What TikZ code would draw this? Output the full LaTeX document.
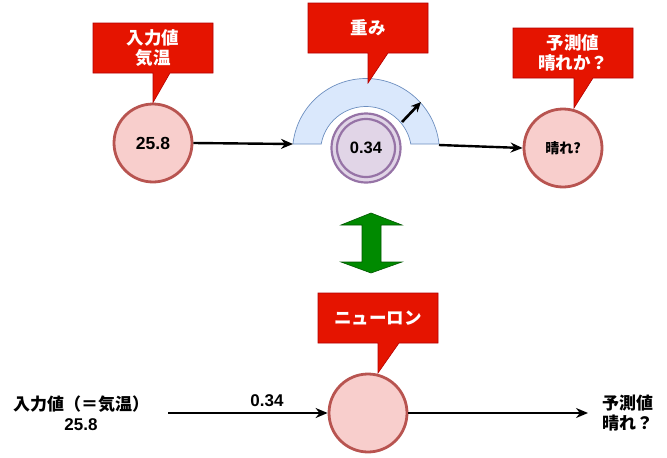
\documentclass[tikz,border=0pt]{standalone}
\usepackage{fontspec}
\setmainfont{Liberation Sans}
\newfontfamily\jp{Noto Sans CJK JP}
\usetikzlibrary{positioning, arrows.meta}

\definecolor{calloutRed}{HTML}{E51400}
\definecolor{calloutLine}{HTML}{B20000}
\definecolor{cellFill}{HTML}{F8CECC}
\definecolor{cellLine}{HTML}{B85450}
\definecolor{weightFill}{HTML}{E1D5E7}
\definecolor{weightLine}{HTML}{9673A6}
\definecolor{arcFill}{HTML}{DAE8FC}
\definecolor{arcLine}{HTML}{6C8EBF}
\definecolor{greenFill}{HTML}{008A00}
\definecolor{greenLine}{HTML}{005700}

\tikzstyle{pinkCircle} = [
    circle,
    draw=cellLine,
    fill=cellFill,
    line width=2.8pt,
    minimum size=78pt,
    inner sep=0pt,
    font=\bfseries\fontsize{17.5}{18}\selectfont
    ]
\tikzstyle{redCallout} = [
    draw=calloutLine,
    fill=calloutRed,
    line width=0.6pt
    ]
\tikzstyle{calloutText} = [
    text=white,
    align=center,
    inner sep=0pt,
    font=\jp\bfseries\fontsize{17.5}{20}\selectfont
    ]
\tikzstyle{plainText} = [
    inner sep=0pt,
    font=\bfseries\fontsize{17}{20}\selectfont
    ]
\tikzstyle{flowArrow} = [
    -{Stealth[length=12pt,width=10pt]},
    line width=2.4pt
    ]

\begin{document}
\begin{tikzpicture}[x=1pt, y=-1pt]
    \useasboundingbox (0,0) rectangle (667,458);

    % top row: input, weight, prediction
    \node[pinkCircle] (temp) at (153,143) {25.8};
    \node[pinkCircle, minimum size=69pt, line width=2.2pt, draw=weightLine, fill=weightFill] (weight) at (366,148) {};
    \node[circle, draw=weightLine, line width=2.2pt, minimum size=58pt, inner sep=0pt, font=\bfseries\fontsize{16.5}{18}\selectfont] (weightIn) at (366,148) {0.34};
    \node[pinkCircle, font=\jp\bfseries\fontsize{14}{16}\selectfont] (guess) at (563,148) {晴れ?};

    % weight gauge
    \coordinate (arcL) at (293,144);
    \coordinate (arcR) at (439,145);
    \draw[draw=arcLine, fill=arcFill, line width=0.7pt]
        (439.06,144) arc[start angle=6.25, end angle=173.75, radius=73.5pt]
        -- (321.2,144) arc[start angle=169.87, end angle=10.13, radius=45.5pt] -- cycle;
    \coordinate (needleA) at (402,122);
    \coordinate (needleB) at (421,102);
    \draw[-{Stealth[length=10pt,width=9pt]}, line width=2.6pt] (needleA) -- (needleB);

    \draw[flowArrow] (temp.east) -- (arcL);
    \draw[flowArrow] (arcR) -- (guess.west);

    % callouts
    \draw[redCallout] (93,23) -- (213,23) -- (213,73) -- (170,73) -- (temp.north) -- (153,73) -- (93,73) -- cycle;
    \node[calloutText] (tempTag) at (153,48) {入力値\\気温};
    \draw[redCallout] (308,3) -- (428,3) -- (428,53) -- (388,53) -- (368,83) -- (368,53) -- (308,53) -- cycle;
    \node[calloutText] (weightTag) at (368,28) {重み};
    \draw[redCallout] (513,28) -- (633,28) -- (633,78) -- (593,78) -- (574,108) -- (574,78) -- (513,78) -- cycle;
    \node[calloutText] (guessTag) at (573,53) {予測値\\晴れか？};

    % equivalence arrow
    \draw[draw=greenLine, fill=greenFill, line width=0.6pt]
        (371,213) -- (402,225) -- (381,225) -- (381,262) -- (402,262) -- (371,273)
        -- (341,262) -- (362,262) -- (362,225) -- (341,225) -- cycle;

    % bottom row: neuron
    \node[pinkCircle] (neuron) at (368,413) {};
    \draw[redCallout] (318,293) -- (438,293) -- (438,343) -- (399,343) -- (378,373) -- (378,343) -- (318,343) -- cycle;
    \node[calloutText] (neuronTag) at (378,318) {ニューロン};

    \node[plainText, align=center] (inLabel) at (81,413) {{\jp 入力値（＝気温）}\\25.8};
    \coordinate (inEnd) at (168,413);
    \draw[flowArrow] (inEnd) -- (neuron.west)
        node[pos=0.62, above=5pt, plainText] (wLabel) {0.34};
    \coordinate (outEnd) at (588,413);
    \draw[flowArrow] (neuron.east) -- (outEnd);
    \node[plainText, align=left, anchor=west, font=\jp\bfseries\fontsize{17}{20}\selectfont] (outLabel) at (602,413) {予測値\\晴れ？};
\end{tikzpicture}
\end{document}
